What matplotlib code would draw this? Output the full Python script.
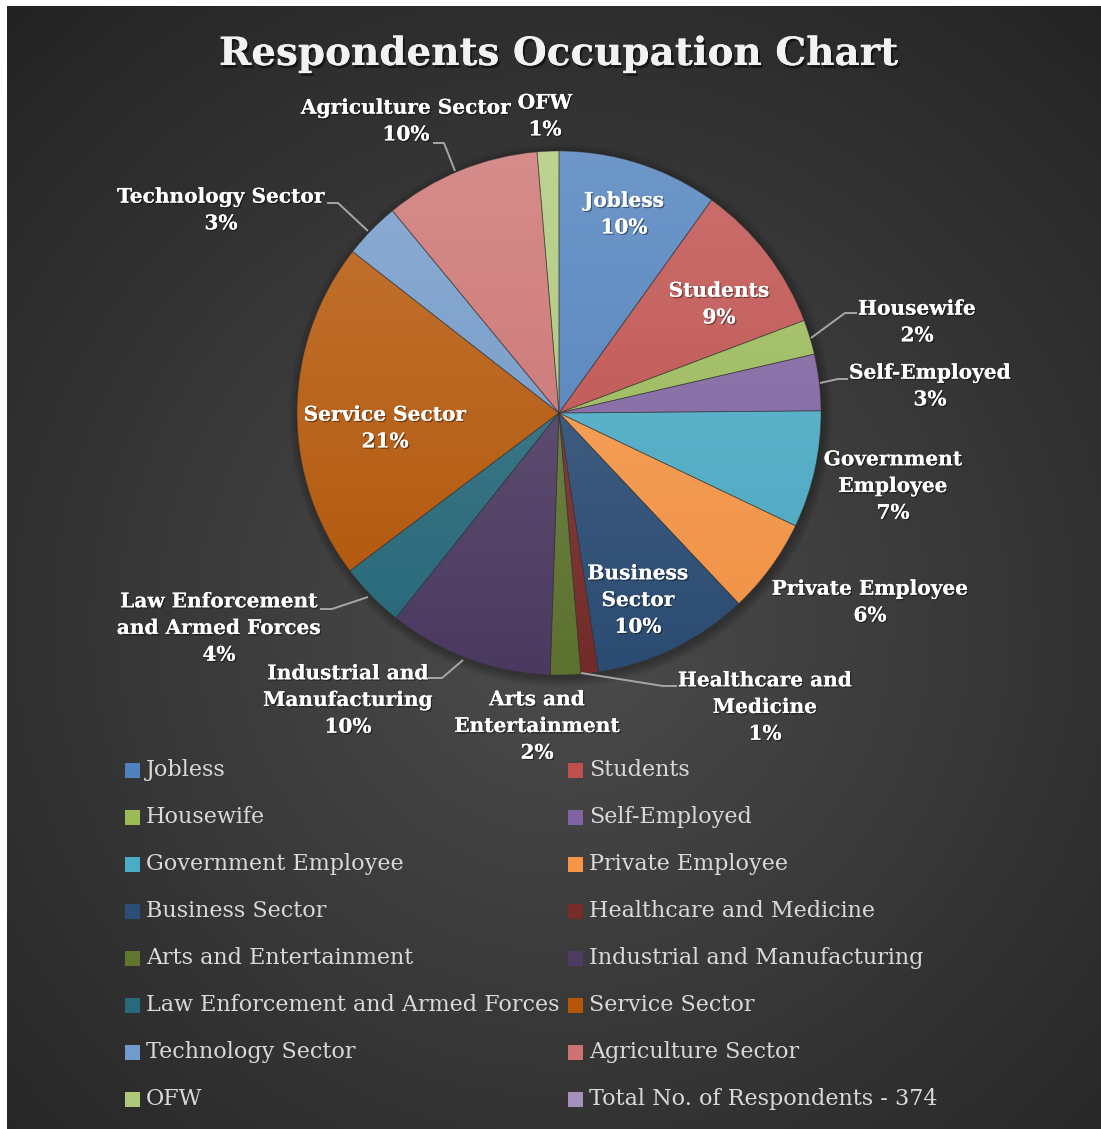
import numpy as np
import matplotlib
matplotlib.use("Agg")
import matplotlib.pyplot as plt
import matplotlib.patheffects as pe
from matplotlib.colors import to_rgb
from matplotlib.patches import Rectangle, Circle

# ---- data -------------------------------------------------------------
categories = ["Jobless", "Students", "Housewife", "Self-Employed",
              "Government Employee", "Private Employee", "Business Sector",
              "Healthcare and Medicine", "Arts and Entertainment",
              "Industrial and Manufacturing", "Law Enforcement and Armed Forces",
              "Service Sector", "Technology Sector", "Agriculture Sector", "OFW"]
counts = [37, 35, 8, 13, 27, 22, 36, 4, 7, 38, 15, 78, 13, 36, 5]
slice_labels = ["Jobless", "Students", "Housewife", "Self-Employed",
                "Government\nEmployee", "Private Employee", "Business\nSector",
                "Healthcare and\nMedicine", "Arts and\nEntertainment",
                "Industrial and\nManufacturing", "Law Enforcement\nand Armed Forces",
                "Service Sector", "Technology Sector", "Agriculture Sector", "OFW"]
colors = ["#4F81BD", "#C0504D", "#9BBB59", "#8064A2", "#4BACC6", "#F79646",
          "#2C4D75", "#772C2A", "#5F7530", "#4D3B62", "#276A7C", "#B65708",
          "#729ACA", "#CD7371", "#AFC97A"]
total_label = "Total No. of Respondents - 374"
total_color = "#A491BC"
title = "Respondents Occupation Chart"

# ---- layout (pixels) ---------------------------------------------------
W, H = 1101, 1129
CX, CY, R = 559, 413, 262
# label centre (x, y) for every slice, and optional leader polylines
label_pos = [(624, 214), (719, 304), (917, 322), (930, 386), (893, 486),
             (870, 602), (638, 600), (765, 707), (537, 726), (348, 700),
             (219, 628), (385, 428), (221, 210), (406, 121), (545, 116)]
leaders = {
    2: [(811, 338), (845, 313), (857, 313)],
    3: [(820, 383), (838, 379), (848, 379)],
    7: [(581, 673), (663, 686), (677, 686)],
    9: [(463, 660), (442, 678), (428, 678)],
    10: [(368, 597), (332, 609), (320, 609)],
    12: [(368, 231), (338, 203), (327, 203)],
    13: [(455, 171), (444, 143), (433, 143)],
}

serif = ["DejaVu Serif"]

fig = plt.figure(figsize=(W / 100, H / 100), dpi=100)
fig.patch.set_facecolor("white")

# background panel with radial shading
bg = fig.add_axes([0, 0, 1, 1])
bg.set_xlim(0, W)
bg.set_ylim(H, 0)
bg.axis("off")
yy, xx = np.mgrid[0:H:2, 0:W:2]
d = np.sqrt(((xx - 560) / 820) ** 2 + ((yy - 620) / 820) ** 2)
lum = 0.30 - 0.16 * np.clip(d, 0, 1)
bg.imshow(np.dstack([lum, lum, lum]), extent=(7, W, H, 6), aspect="auto",
          interpolation="bilinear", zorder=0)

# pie axes
pax = fig.add_axes([(CX - R) / W, (H - CY - R) / H, 2 * R / W, 2 * R / H])
pax.axis("off")
wedges, _ = pax.pie(counts, colors=colors, startangle=90, counterclock=False,
                    radius=1.0, wedgeprops=dict(linewidth=0.6,
                                                edgecolor=(0.2, 0.2, 0.2, 0.5)))
pax.set_xlim(-1, 1)
pax.set_ylim(-1, 1)

# soft shadow around the pie
for k in range(8):
    pax.add_patch(Circle((0.006, -0.01), 1.0 + 0.005 * k, color="black",
                         alpha=0.035, zorder=0.5, lw=0, clip_on=False))

# vertical shading within each slice
t = np.linspace(0, 1, 256)[:, None]
for w, c in zip(wedges, colors):
    base = np.array(to_rgb(c))
    top = base + (1 - base) * 0.18
    bot = base * 0.97
    grad = top[None, None, :] * (1 - t[..., None]) + bot[None, None, :] * t[..., None]
    im = pax.imshow(grad, extent=(-1, 1, -1, 1), aspect="auto", zorder=1.5,
                    interpolation="bilinear")
    im.set_clip_path(w)
    w.set_facecolor("none")
    w.set_zorder(2)

pax.set_xlim(-1, 1)
pax.set_ylim(-1, 1)

shadow = [pe.withSimplePatchShadow(offset=(1, -1), shadow_rgbFace="black",
                                   alpha=0.4), pe.Normal()]

total = sum(counts)
for i, (lab, n) in enumerate(zip(slice_labels, counts)):
    pct = int(round(100 * n / total))
    x, y = label_pos[i]
    pax.text(x, y, f"{lab}\n{pct}%", transform=bg.transData, ha="center",
             va="center", color="white", fontsize=14.5, fontweight="bold",
             family=serif, linespacing=1.42, path_effects=shadow, zorder=5,
             clip_on=False)
    if i in leaders:
        lx, ly = zip(*leaders[i])
        pax.plot(lx, ly, transform=bg.transData, color="#a6a6a6", lw=1.4,
                 zorder=4, clip_on=False, solid_capstyle="butt")

# title
bg.text(W / 2 + 8, 54, title, ha="center", va="center", color="#f2f2f2",
        fontsize=28, fontweight="bold", family=serif, zorder=5,
        path_effects=[pe.withSimplePatchShadow(offset=(1.5, -2),
                                               shadow_rgbFace="black",
                                               alpha=0.5), pe.Normal()])

# legend, two columns, row-major order
legend_items = list(zip(categories, colors)) + [(total_label, total_color)]
col_x = [125, 568]
row_y0, row_dy = 770, 47
sq = 15
for i, (name, c) in enumerate(legend_items):
    r, col = divmod(i, 2)
    x0 = col_x[col]
    y0 = row_y0 + r * row_dy
    bg.add_patch(Rectangle((x0, y0 - sq / 2), sq, sq, facecolor=c,
                           edgecolor="none", zorder=3))
    bg.text(x0 + 21, y0, name, ha="left", va="center", color="#d9d9d9",
            fontsize=16, family=serif, zorder=3)

fig.savefig("out.png", dpi=100, facecolor=fig.get_facecolor())
